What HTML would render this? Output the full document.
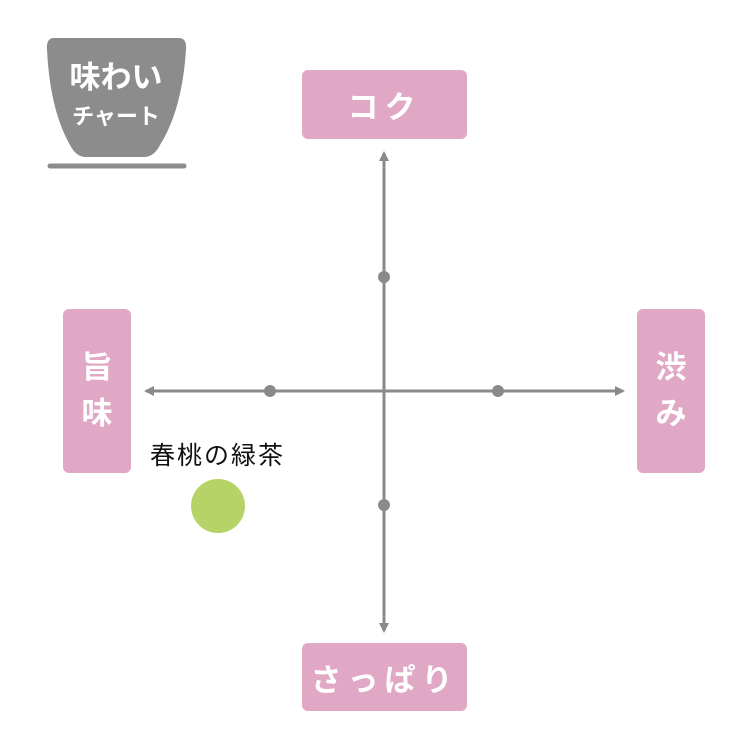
<!DOCTYPE html>
<html><head><meta charset="utf-8"><style>
body{margin:0;background:#fff;width:750px;height:750px;overflow:hidden;font-family:"Liberation Sans","Noto Sans CJK JP",sans-serif}
.b{position:absolute;background:#e0a8c4;border-radius:6px;color:#fff;display:flex;align-items:center;justify-content:center;font-size:31px;font-weight:bold;letter-spacing:6px}
</style></head><body>
<svg width="750" height="750" style="position:absolute;left:0;top:0">
<defs><marker id="a" markerWidth="10" markerHeight="10" refX="8" refY="5" orient="auto" markerUnits="userSpaceOnUse"><path d="M0,0 L10,5 L0,10z" fill="#8a8a8a"/></marker></defs>
<path d="M54,38 H179 Q187,38 186,50 Q182,110 160,145 Q154,157 144,157 H86 Q76,157 70,145 Q50,110 47,50 Q46,38 54,38z" fill="#8c8c8c"/>
<line x1="50" y1="166" x2="184" y2="166" stroke="#8c8c8c" stroke-width="5" stroke-linecap="round"/>
<text x="116" y="88" fill="#fff" font-size="31" font-weight="bold" text-anchor="middle" font-family="Liberation Sans,Noto Sans CJK JP,sans-serif">味わい</text>
<text x="116" y="124" fill="#fff" font-size="22" font-weight="bold" text-anchor="middle" font-family="Liberation Sans,Noto Sans CJK JP,sans-serif">チャート</text>
<line x1="384" y1="630" x2="384" y2="153" stroke="#8a8a8a" stroke-width="3" marker-end="url(#a)"/>
<line x1="384" y1="391" x2="384" y2="631" stroke="#8a8a8a" stroke-width="3" marker-end="url(#a)"/>
<line x1="384" y1="391" x2="146" y2="391" stroke="#8a8a8a" stroke-width="3" marker-end="url(#a)"/>
<line x1="384" y1="391" x2="623" y2="391" stroke="#8a8a8a" stroke-width="3" marker-end="url(#a)"/>
<circle cx="384" cy="277" r="6" fill="#8a8a8a"/><circle cx="384" cy="505" r="6" fill="#8a8a8a"/>
<circle cx="270" cy="391" r="6" fill="#8a8a8a"/><circle cx="498" cy="391" r="6" fill="#8a8a8a"/>
<circle cx="218" cy="506" r="27" fill="#b5d366"/>
<text x="150" y="464" font-size="25" letter-spacing="2" fill="#111" font-family="Liberation Sans,Noto Sans CJK JP,sans-serif">春桃の緑茶</text>
</svg>
<div class="b" style="left:302px;top:70px;width:165px;height:69px">コク</div>
<div class="b" style="left:302px;top:643px;width:165px;height:68px">さっぱり</div>
<div class="b" style="left:63px;top:309px;width:68px;height:164px;flex-direction:column;letter-spacing:0;line-height:46px">旨<br>味</div>
<div class="b" style="left:637px;top:309px;width:68px;height:164px;flex-direction:column;letter-spacing:0;line-height:46px">渋<br>み</div>
</body></html>
